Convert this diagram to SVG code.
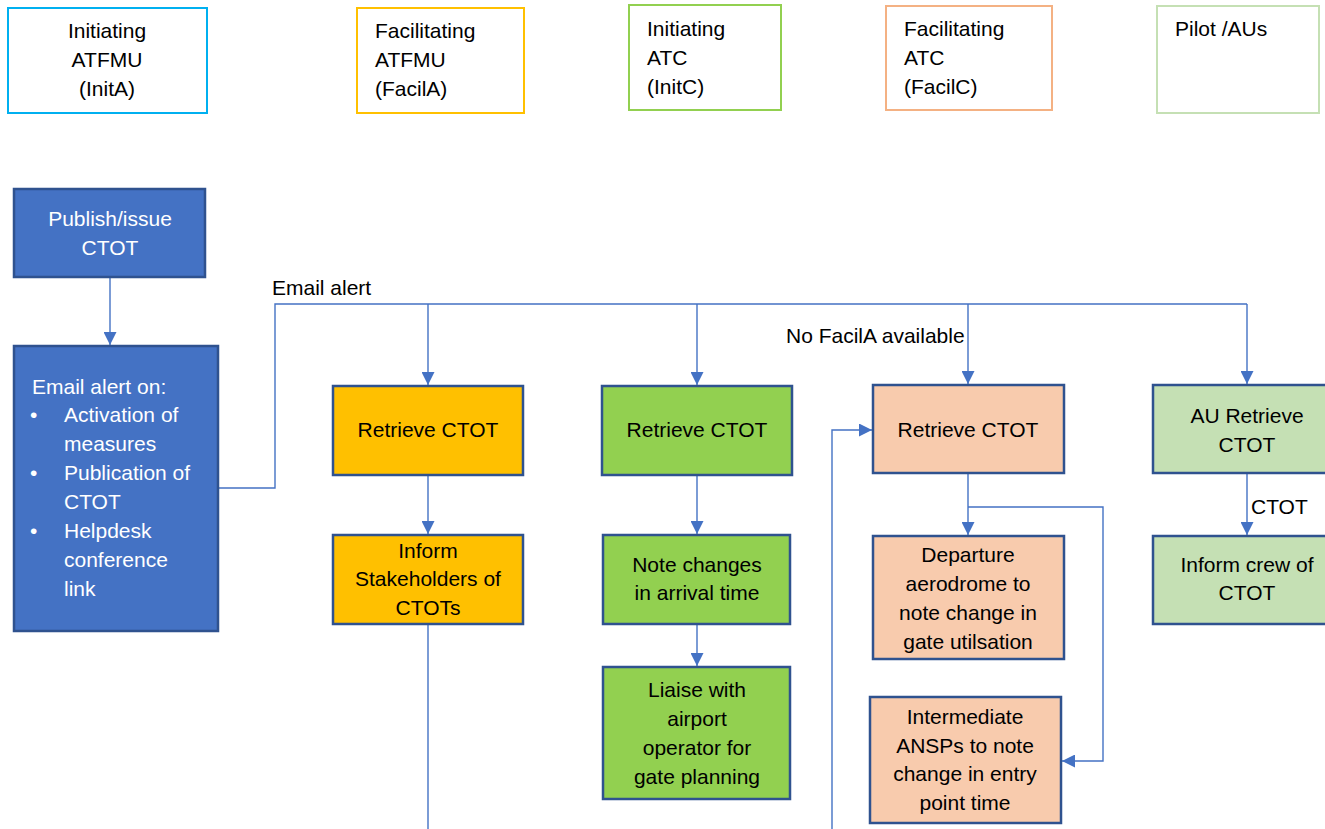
<svg xmlns="http://www.w3.org/2000/svg" width="1325" height="829" viewBox="0 0 1325 829">
<style>
text{font-family:"Liberation Sans",Arial,sans-serif;font-size:21px;fill:#000}
.w{fill:#fff}
.c{text-anchor:middle}
.hdr{fill:#fff;stroke-width:2}
.n{stroke:#2F528F;stroke-width:2.5}
.blue{fill:#4472C4}
.org{fill:#FFC000}
.grn{fill:#92D050}
.pch{fill:#F8CBAD}
.lgr{fill:#C5E0B4}
.ln{fill:none;stroke:#4472C4;stroke-width:1.4}
</style>
<defs>
<marker id="ah" markerUnits="userSpaceOnUse" markerWidth="13" markerHeight="13" refX="13" refY="6.5" orient="auto">
<path d="M0,0 L13,6.5 L0,13 z" fill="#4472C4"/>
</marker>
</defs>
<rect width="1325" height="829" fill="#fff"/>

<g id="hdr-inita">
<rect class="hdr" x="8" y="8" width="199" height="105" stroke="#00B0F0"/>
<text class="c" x="107" y="38">Initiating</text>
<text class="c" x="107" y="67">ATFMU</text>
<text class="c" x="107" y="96">(InitA)</text>
</g>
<g id="hdr-facila">
<rect class="hdr" x="357" y="8" width="167" height="105" stroke="#FFC000"/>
<text x="375" y="38">Facilitating</text>
<text x="375" y="67">ATFMU</text>
<text x="375" y="96">(FacilA)</text>
</g>
<g id="hdr-initc">
<rect class="hdr" x="629" y="5" width="152" height="105" stroke="#92D050"/>
<text x="647" y="36">Initiating</text>
<text x="647" y="65">ATC</text>
<text x="647" y="94">(InitC)</text>
</g>
<g id="hdr-facilc">
<rect class="hdr" x="886" y="6" width="166" height="104" stroke="#F4B183"/>
<text x="904" y="36">Facilitating</text>
<text x="904" y="65">ATC</text>
<text x="904" y="94">(FacilC)</text>
</g>
<g id="hdr-pilot">
<rect class="hdr" x="1157" y="6" width="162" height="107" stroke="#C5E0B4"/>
<text x="1175" y="36">Pilot /AUs</text>
</g>

<g id="connectors">
<line class="ln" x1="110" y1="278" x2="110" y2="345" marker-end="url(#ah)"/>
<polyline class="ln" points="218,488 275,488 275,304 1247,304"/>
<line class="ln" x1="428" y1="304" x2="428" y2="385" marker-end="url(#ah)"/>
<line class="ln" x1="697" y1="304" x2="697" y2="385" marker-end="url(#ah)"/>
<line class="ln" x1="968" y1="304" x2="968" y2="384" marker-end="url(#ah)"/>
<line class="ln" x1="1247" y1="304" x2="1247" y2="384" marker-end="url(#ah)"/>
<line class="ln" x1="428" y1="475" x2="428" y2="534" marker-end="url(#ah)"/>
<line class="ln" x1="428" y1="624" x2="428" y2="829"/>
<line class="ln" x1="697" y1="475" x2="697" y2="534" marker-end="url(#ah)"/>
<line class="ln" x1="697" y1="624" x2="697" y2="666" marker-end="url(#ah)"/>
<line class="ln" x1="968" y1="473" x2="968" y2="535" marker-end="url(#ah)"/>
<polyline class="ln" points="968,507 1103,507 1103,761 1062,761" marker-end="url(#ah)"/>
<polyline class="ln" points="832,829 832,430 872,430" marker-end="url(#ah)"/>
<line class="ln" x1="1247" y1="473" x2="1247" y2="535" marker-end="url(#ah)"/>
<text x="272" y="295">Email alert</text>
<text x="786" y="343">No FacilA available</text>
<text x="1251" y="514">CTOT</text>
</g>

<g id="publish">
<rect class="n blue" x="14" y="189" width="191" height="88"/>
<text class="c w" x="110" y="226">Publish/issue</text>
<text class="c w" x="110" y="255">CTOT</text>
</g>
<g id="email">
<rect class="n blue" x="14" y="346" width="204" height="285"/>
<text class="w" x="32" y="394">Email alert on:</text>
<text class="w" x="30" y="422">•</text>
<text class="w" x="64" y="422">Activation of</text>
<text class="w" x="64" y="451">measures</text>
<text class="w" x="30" y="480">•</text>
<text class="w" x="64" y="480">Publication of</text>
<text class="w" x="64" y="509">CTOT</text>
<text class="w" x="30" y="538">•</text>
<text class="w" x="64" y="538">Helpdesk</text>
<text class="w" x="64" y="567">conference</text>
<text class="w" x="64" y="596">link</text>
</g>

<g id="facila-retrieve">
<rect class="n org" x="333" y="386" width="190" height="89"/>
<text class="c" x="428" y="437">Retrieve CTOT</text>
</g>
<g id="facila-inform">
<rect class="n org" x="333" y="535" width="190" height="89"/>
<text class="c" x="428" y="558">Inform</text>
<text class="c" x="428" y="586">Stakeholders of</text>
<text class="c" x="428" y="615">CTOTs</text>
</g>

<g id="initc-retrieve">
<rect class="n grn" x="602" y="386" width="190" height="89"/>
<text class="c" x="697" y="437">Retrieve CTOT</text>
</g>
<g id="initc-note">
<rect class="n grn" x="603" y="535" width="187" height="89"/>
<text class="c" x="697" y="572">Note changes</text>
<text class="c" x="697" y="600">in arrival time</text>
</g>
<g id="initc-liaise">
<rect class="n grn" x="603" y="667" width="187" height="132"/>
<text class="c" x="697" y="697">Liaise with</text>
<text class="c" x="697" y="726">airport</text>
<text class="c" x="697" y="755">operator for</text>
<text class="c" x="697" y="784">gate planning</text>
</g>

<g id="facilc-retrieve">
<rect class="n pch" x="873" y="385" width="191" height="88"/>
<text class="c" x="968" y="437">Retrieve CTOT</text>
</g>
<g id="facilc-departure">
<rect class="n pch" x="873" y="536" width="191" height="123"/>
<text class="c" x="968" y="562">Departure</text>
<text class="c" x="968" y="591">aerodrome to</text>
<text class="c" x="968" y="620">note change in</text>
<text class="c" x="968" y="649">gate utilsation</text>
</g>
<g id="facilc-intermediate">
<rect class="n pch" x="870" y="697" width="191" height="126"/>
<text class="c" x="965" y="724">Intermediate</text>
<text class="c" x="965" y="753">ANSPs to note</text>
<text class="c" x="965" y="781">change in entry</text>
<text class="c" x="965" y="810">point time</text>
</g>

<g id="au-retrieve">
<rect class="n lgr" x="1153" y="385" width="180" height="88"/>
<text class="c" x="1247" y="423">AU Retrieve</text>
<text class="c" x="1247" y="452">CTOT</text>
</g>
<g id="au-inform">
<rect class="n lgr" x="1153" y="536" width="180" height="88"/>
<text class="c" x="1247" y="572">Inform crew of</text>
<text class="c" x="1247" y="600">CTOT</text>
</g>
</svg>
